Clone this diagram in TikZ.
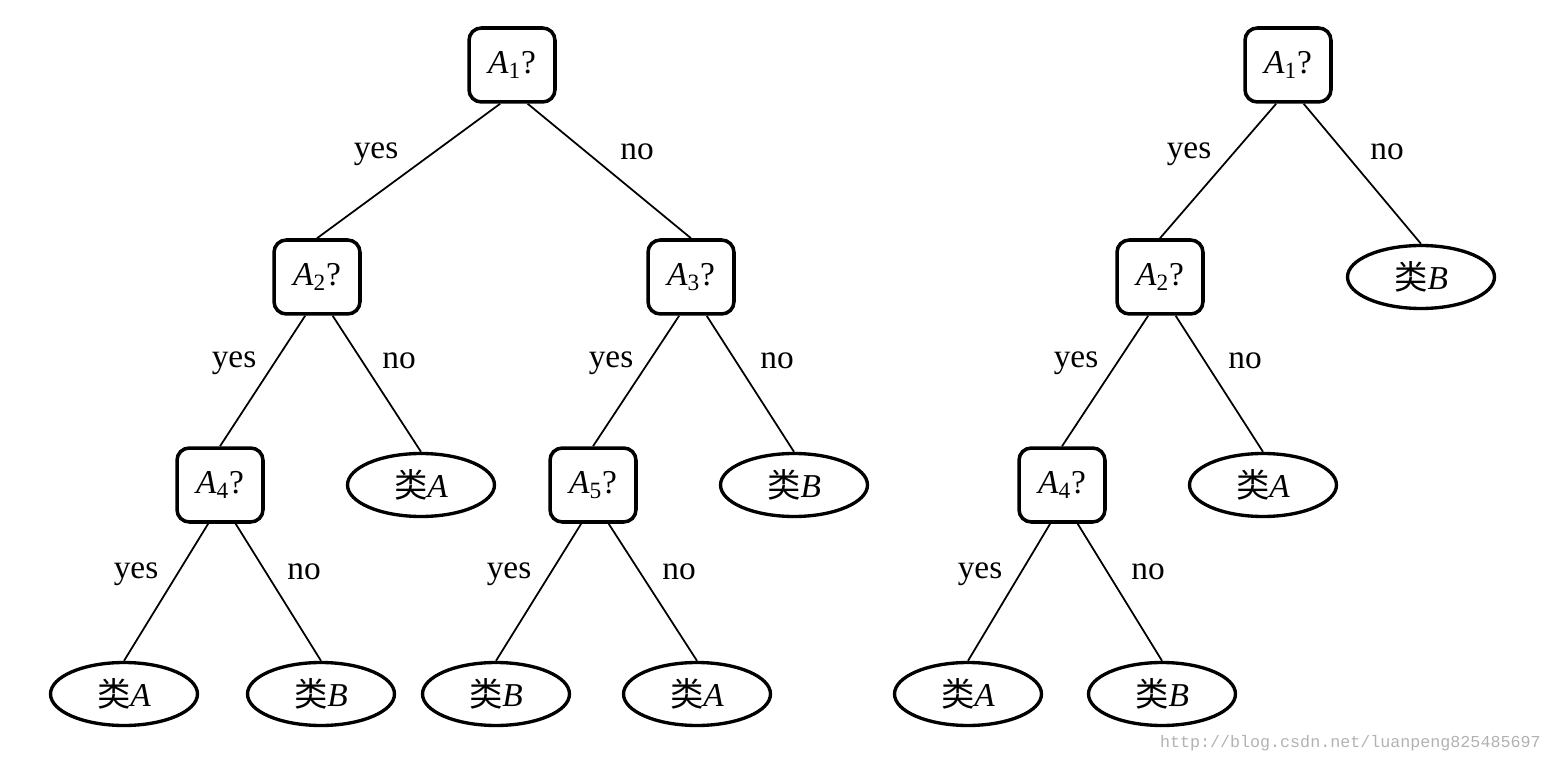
\documentclass[tikz,border=0pt]{standalone}
\usepackage{fontspec}
\setmainfont{Liberation Serif}
\newfontfamily\cjk{Noto Sans CJK SC}
\newfontfamily\urlfont{Liberation Mono}
\usetikzlibrary{shapes.geometric}

\tikzset{
	test/.style={draw, line width=2pt, rounded corners=7pt, minimum width=1.72cm,
	minimum height=1.48cm, inner sep=0pt},
	leaf/.style={draw, ellipse, line width=1.9pt, minimum width=2.94cm,
	minimum height=1.26cm, inner sep=0pt},
	branch/.style={line width=1pt},
	lbl/.style={inner sep=0pt}
}

\begin{document}
\begin{tikzpicture}[x=0.02cm, y=-0.02cm, font=\fontsize{19}{23}\selectfont]
			\useasboundingbox (0, 0) rectangle (1553, 760);

			\node [test] (l1) at (512, 65) {\textit{A}\textsubscript{1}?};
			\node [test] (l2) at (317, 277) {\textit{A}\textsubscript{2}?};
			\node [test] (l3) at (691, 277) {\textit{A}\textsubscript{3}?};
			\node [test] (l4) at (220, 485) {\textit{A}\textsubscript{4}?};
			\node [test] (l5) at (593, 485) {\textit{A}\textsubscript{5}?};
			\node [leaf] (la) at (421, 485) {{\cjk 类}\textit{A}};
			\node [leaf] (lb) at (794, 485) {{\cjk 类}\textit{B}};
			\node [leaf] (l4a) at (124, 694) {{\cjk 类}\textit{A}};
			\node [leaf] (l4b) at (321, 694) {{\cjk 类}\textit{B}};
			\node [leaf] (l5b) at (496, 694) {{\cjk 类}\textit{B}};
			\node [leaf] (l5a) at (697, 694) {{\cjk 类}\textit{A}};

			\draw [branch] (l1.-107) -- (l2.north);
			\draw [branch] (l1.-68) -- (l3.north);
			\draw [branch] (l2.-107) -- (l4.north);
			\draw [branch] (l2.-68) -- (la.north);
			\draw [branch] (l3.-107) -- (l5.north);
			\draw [branch] (l3.-68) -- (lb.north);
			\draw [branch] (l4.-107) -- (l4a.north);
			\draw [branch] (l4.-68) -- (l4b.north);
			\draw [branch] (l5.-107) -- (l5b.north);
			\draw [branch] (l5.-68) -- (l5a.north);

			\node [lbl] (ly1) at (376, 154) {yes};
			\node [lbl] (ln1) at (637, 152) {no};
			\node [lbl] (ly2) at (234, 363) {yes};
			\node [lbl] (ln2) at (399, 361) {no};
			\node [lbl] (ly3) at (611, 363) {yes};
			\node [lbl] (ln3) at (777, 361) {no};
			\node [lbl] (ly4) at (136, 574) {yes};
			\node [lbl] (ln4) at (304, 572) {no};
			\node [lbl] (ly5) at (509, 574) {yes};
			\node [lbl] (ln5) at (679, 572) {no};

			\node [test] (r1) at (1288, 65) {\textit{A}\textsubscript{1}?};
			\node [test] (r2) at (1160, 277) {\textit{A}\textsubscript{2}?};
			\node [test] (r4) at (1062, 485) {\textit{A}\textsubscript{4}?};
			\node [leaf] (rb) at (1421, 277) {{\cjk 类}\textit{B}};
			\node [leaf] (ra) at (1263, 485) {{\cjk 类}\textit{A}};
			\node [leaf] (r4a) at (968, 694) {{\cjk 类}\textit{A}};
			\node [leaf] (r4b) at (1162, 694) {{\cjk 类}\textit{B}};

			\draw [branch] (r1.-107) -- (r2.north);
			\draw [branch] (r1.-68) -- (rb.north);
			\draw [branch] (r2.-107) -- (r4.north);
			\draw [branch] (r2.-68) -- (ra.north);
			\draw [branch] (r4.-107) -- (r4a.north);
			\draw [branch] (r4.-68) -- (r4b.north);

			\node [lbl] (ry1) at (1189, 154) {yes};
			\node [lbl] (rn1) at (1387, 152) {no};
			\node [lbl] (ry2) at (1076, 363) {yes};
			\node [lbl] (rn2) at (1245, 361) {no};
			\node [lbl] (ry4) at (980, 574) {yes};
			\node [lbl] (rn4) at (1148, 572) {no};

			\node [lbl, anchor=east, text=black!30, font=\urlfont\fontsize{9.5}{11}\selectfont]
			(url) at (1541, 743) {http://blog.csdn.net/luanpeng825485697};
		\end{tikzpicture}
\end{document}
